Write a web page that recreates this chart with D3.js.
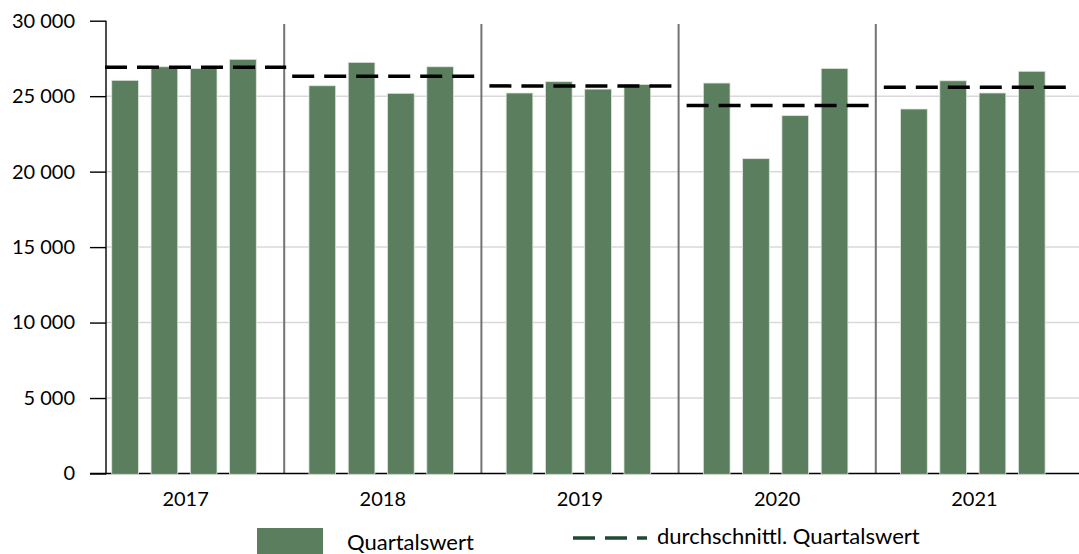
<!DOCTYPE html>
<html>
<head>
<meta charset="utf-8">
<script src="https://cdn.jsdelivr.net/npm/d3@7"></script>
<style>
  body { margin: 0; background: #fff; }
  svg { display: block; font-family: Lato, 'Open Sans', sans-serif; }
</style>
</head>
<body>
<div id="chart"></div>
<script>
const years = ['2017', '2018', '2019', '2020', '2021'];
const quarters = ['Q1', 'Q2', 'Q3', 'Q4'];
const quarterValues = [
  [26050, 26950, 26830, 27440],
  [25690, 27240, 25190, 26950],
  [25210, 25960, 25470, 25780],
  [25870, 20860, 23710, 26840],
  [24150, 26020, 25210, 26650]
];
const averageValues = [26920, 26320, 25680, 24380, 25590];
const yTicks = [0, 5000, 10000, 15000, 20000, 25000, 30000];
const legendLabels = ['Quartalswert', 'durchschnittl. Quartalswert'];

const width = 1079;
const height = 554;
const axisX = 106;
const barColor = '#5b7f5e';

const svg = d3.select('#chart')
              .append('svg')
              .attr('width', width)
              .attr('height', height);

const xScale = d3.scaleBand()
                 .domain(years)
                 .range([87, 1073]);

const qScale = d3.scaleBand()
                 .domain(quarters)
                 .range([0, xScale.bandwidth()])
                 .paddingInner(0.32)
                 .paddingOuter(0.67)
                 .align(0.47);

const yScale = d3.scaleLinear()
                 .domain([0, 30000])
                 .range([473.5, 20.7]);

// gridlines (no line at the top value)
svg.append('g')
   .selectAll('line')
   .data(yTicks.filter(d => d > 0 && d < 30000))
   .enter()
   .append('line')
   .attr('x1', axisX)
   .attr('x2', width)
   .attr('y1', d => yScale(d))
   .attr('y2', d => yScale(d))
   .style('stroke', '#d9d9d9')
   .style('stroke-width', 1.5);

// year dividers
svg.append('g')
   .selectAll('line')
   .data(years.slice(1))
   .enter()
   .append('line')
   .attr('x1', d => xScale(d))
   .attr('x2', d => xScale(d))
   .attr('y1', 24)
   .attr('y2', yScale(0))
   .style('stroke', '#737373')
   .style('stroke-width', 2);

// x axis line
svg.append('line')
   .attr('x1', 90)
   .attr('x2', width)
   .attr('y1', yScale(0))
   .attr('y2', yScale(0))
   .style('stroke', '#000')
   .style('stroke-width', 1.4);

// bars
const groups = svg.append('g')
                  .selectAll('g')
                  .data(quarterValues)
                  .enter()
                  .append('g')
                  .attr('transform', (d, i) => 'translate(' + xScale(years[i]) + ', 0)');

groups.selectAll('rect')
      .data(d => d)
      .enter()
      .append('rect')
      .attr('x', (d, i) => qScale(quarters[i]))
      .attr('y', d => yScale(d))
      .attr('width', qScale.bandwidth())
      .attr('height', d => yScale(0) - yScale(d) + 0.8)
      .style('fill', barColor)
      .style('stroke', '#dfe6df')
      .style('stroke-width', 0.8);

// average lines
svg.append('g')
   .selectAll('line')
   .data(averageValues)
   .enter()
   .append('line')
   .attr('x1', (d, i) => Math.max(axisX - 1, xScale(years[i]) + 8))
   .attr('x2', (d, i) => xScale(years[i]) + xScale.bandwidth() + 2)
   .attr('y1', d => yScale(d))
   .attr('y2', d => yScale(d))
   .style('stroke', '#000')
   .style('stroke-width', 3.5)
   .style('stroke-dasharray', '22 10');

// y axis
const yAxis = d3.axisLeft(yScale)
                .tickValues(yTicks)
                .tickSize(16)
                .tickPadding(15)
                .tickFormat(d => d3.format(',')(d).replace(',', ' '));

const yAxisG = svg.append('g')
                  .attr('transform', 'translate(' + axisX + ', 0)')
                  .call(yAxis);

yAxisG.select('.domain')
      .attr('d', 'M0,' + yScale(30000) + 'V' + (yScale(0) + 0.7))
      .style('stroke-width', 1.4);
yAxisG.selectAll('.tick line').style('stroke-width', 1.4);
yAxisG.selectAll('.tick text')
      .style('font-family', 'Lato, sans-serif')
      .style('font-size', '20px')
      .style('fill', '#000');

// year labels
svg.append('g')
   .selectAll('text')
   .data(years)
   .enter()
   .append('text')
   .attr('x', d => xScale(d) + xScale.bandwidth() / 2)
   .attr('y', 506)
   .attr('text-anchor', 'middle')
   .style('font-size', '20px')
   .text(d => d);

// legend
svg.append('rect')
   .attr('x', 257)
   .attr('y', 528)
   .attr('width', 66)
   .attr('height', 30)
   .style('fill', barColor);

svg.append('text')
   .attr('x', 347)
   .attr('y', 550)
   .style('font-size', '22px')
   .text(legendLabels[0]);

svg.append('line')
   .attr('x1', 573)
   .attr('x2', 647)
   .attr('y1', 538)
   .attr('y2', 538)
   .style('stroke', '#1e4b32')
   .style('stroke-width', 3.5)
   .style('stroke-dasharray', '22 10');

svg.append('text')
   .attr('x', 657)
   .attr('y', 544)
   .style('font-size', '22px')
   .text(legendLabels[1]);
</script>
</body>
</html>
